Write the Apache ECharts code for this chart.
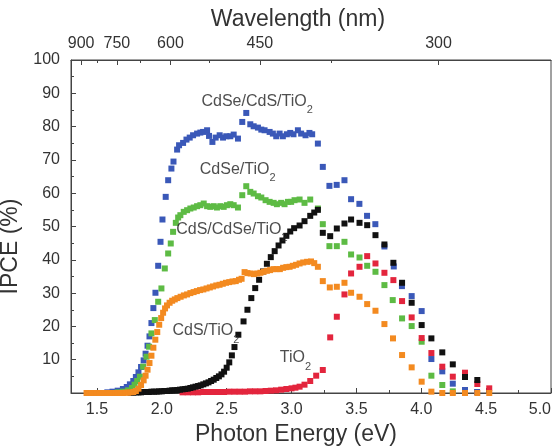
<!DOCTYPE html>
<html><head><meta charset="utf-8">
<script src="https://cdn.jsdelivr.net/npm/echarts@6/dist/echarts.min.js"></script>
<style>html,body{margin:0;padding:0;background:#fff}#c{width:558px;height:447px}</style>
</head><body><div id="c"></div>
<script>
const FONT = 'Liberation Sans, Arial, sans-serif';
const energyTicks = [1.5, 2.0, 2.5, 3.0, 3.5, 4.0, 4.5, 5.0];
const energyMinorTicks = [1.75, 2.25, 2.75, 3.25, 3.75, 4.25, 4.75];
const wavelengthTicks = [900, 750, 600, 450, 300];
const wavelengthMinorTicks = [825, 675, 525, 375];

// CdSe/CdS/TiO2 (blue)
const cdseCdsTio2 = [[1.58,0.2],[1.62,0.4],[1.66,0.7],[1.70,1.2],[1.73,1.8],[1.754,2.6],[1.78,3.6],[1.80,4.8],[1.82,6.2],[1.84,7.8],[1.86,9.8],[1.875,11.8],[1.89,14.2],[1.905,17.0],[1.92,21.0],[1.935,25.5],[1.951,30.1],[1.972,38.2],[1.99,45.4],[2.005,52.1],[2.03,58.9],[2.049,63.9],[2.074,67.4],[2.09,69.5],[2.118,73.1],[2.133,74.4],[2.164,75.1],[2.19,76.1],[2.215,76.7],[2.241,77.4],[2.272,77.9],[2.297,78.2],[2.318,78.4],[2.349,78.9],[2.364,77.2],[2.39,75.4],[2.415,76.7],[2.446,77.4],[2.472,76.7],[2.497,77.1],[2.528,77.1],[2.554,77.6],[2.587,76.4],[2.62,81.4],[2.651,84.1],[2.682,80.7],[2.708,80.1],[2.741,79.7],[2.767,79.1],[2.792,78.9],[2.831,78.4],[2.856,77.9],[2.882,77.1],[2.908,77.9],[2.933,77.1],[2.964,77.7],[2.99,78.1],[3.015,77.7],[3.049,78.9],[3.074,77.9],[3.108,77.4],[3.138,78.1],[3.159,77.7],[3.203,74.9],[3.241,67.9],[3.292,62.2],[3.348,62.5],[3.408,63.9],[3.459,58.2],[3.523,56.8],[3.582,53.2],[3.646,50.7],[3.716,44.0],[3.788,38.0],[3.851,32.1],[3.926,29.1],[4.003,24.6],[4.078,10.2],[4.162,6.5],[4.243,2.8],[4.337,0.9],[4.43,0.3]];
// CdSe/TiO2 (green)
const cdseTio2 = [[1.66,0.2],[1.70,0.4],[1.74,0.8],[1.77,1.5],[1.79,2.5],[1.81,3.6],[1.831,4.9],[1.856,7.9],[1.882,10.9],[1.902,13.9],[1.92,17.9],[1.946,21.9],[1.972,27.4],[1.997,31.4],[2.023,37.4],[2.049,41.9],[2.069,44.9],[2.087,48.4],[2.108,51.1],[2.126,52.7],[2.143,53.4],[2.169,54.4],[2.195,54.9],[2.22,55.4],[2.246,55.7],[2.272,56.1],[2.297,56.4],[2.323,56.9],[2.349,56.1],[2.374,55.9],[2.40,56.1],[2.425,55.7],[2.451,56.1],[2.477,55.9],[2.502,56.4],[2.528,56.7],[2.554,56.4],[2.587,55.7],[2.62,59.4],[2.651,62.1],[2.682,60.4],[2.708,59.9],[2.741,59.1],[2.767,58.7],[2.80,57.9],[2.831,57.4],[2.862,57.1],[2.887,56.7],[2.92,57.1],[2.946,56.7],[2.972,57.4],[2.997,57.4],[3.023,57.9],[3.062,58.1],[3.10,57.1],[3.144,58.1],[3.203,55.4],[3.241,50.7],[3.292,44.1],[3.349,44.1],[3.408,45.4],[3.459,41.6],[3.524,40.7],[3.583,38.2],[3.647,36.4],[3.716,32.4],[3.78,27.9],[3.852,22.4],[3.926,20.1],[4.003,15.4],[4.078,5.2],[4.162,2.4],[4.243,0.5]];
// CdS/CdSe/TiO2 (black)
const cdsCdseTio2 = [[1.76,0.1],[1.78,0.1],[1.80,0.2],[1.82,0.2],[1.84,0.2],[1.86,0.3],[1.88,0.3],[1.90,0.3],[1.92,0.4],[1.94,0.4],[1.96,0.4],[1.98,0.5],[2.00,0.5],[2.02,0.6],[2.04,0.6],[2.06,0.7],[2.08,0.8],[2.10,0.8],[2.12,0.9],[2.14,1.0],[2.16,1.1],[2.18,1.2],[2.20,1.3],[2.22,1.5],[2.24,1.7],[2.26,1.9],[2.28,2.1],[2.30,2.3],[2.32,2.6],[2.34,2.9],[2.36,3.2],[2.38,3.6],[2.40,4.0],[2.42,4.5],[2.44,5.0],[2.46,5.6],[2.48,6.4],[2.50,7.6],[2.52,9.2],[2.54,11.3],[2.56,13.8],[2.59,17.5],[2.63,21.5],[2.66,25.0],[2.69,28.5],[2.72,31.5],[2.75,34.0],[2.78,36.5],[2.81,38.8],[2.84,40.8],[2.87,42.6],[2.90,44.3],[2.93,45.8],[2.96,47.2],[2.99,48.5],[3.02,49.5],[3.062,50.3],[3.10,51.6],[3.144,53.2],[3.175,54.2],[3.203,55.0],[3.241,48.1],[3.298,47.1],[3.349,49.4],[3.408,50.9],[3.459,52.1],[3.524,51.1],[3.583,50.4],[3.647,47.4],[3.716,44.6],[3.785,39.1],[3.852,33.1],[3.926,27.1],[4.003,20.4],[4.078,16.4],[4.162,12.2],[4.243,8.6],[4.337,4.8],[4.432,3.9]];
// CdS/TiO2 (orange)
const cdsTio2 = [[1.42,0],[1.44,0],[1.46,0],[1.48,0],[1.50,0],[1.52,0],[1.54,0],[1.56,0],[1.58,0],[1.60,0],[1.62,0],[1.64,0],[1.66,0],[1.68,0],[1.70,0],[1.72,0.1],[1.74,0.1],[1.76,0.2],[1.78,0.3],[1.80,0.6],[1.82,1.3],[1.84,2.4],[1.86,3.8],[1.875,5.2],[1.89,7.0],[1.905,9.0],[1.92,11.2],[1.935,13.6],[1.95,16.0],[1.965,18.3],[1.98,20.5],[1.995,22.5],[2.01,24.1],[2.025,25.4],[2.04,26.3],[2.06,27.1],[2.08,27.7],[2.10,28.1],[2.12,28.5],[2.145,28.9],[2.17,29.3],[2.195,29.6],[2.22,30.0],[2.245,30.3],[2.27,30.6],[2.295,30.9],[2.32,31.1],[2.345,31.4],[2.37,31.7],[2.395,32.0],[2.42,32.3],[2.445,32.5],[2.47,32.8],[2.495,33.1],[2.52,33.3],[2.545,33.5],[2.57,33.6],[2.595,34.0],[2.615,34.3],[2.638,36.3],[2.66,36.0],[2.685,35.9],[2.71,35.7],[2.735,35.9],[2.76,36.1],[2.785,36.4],[2.81,36.7],[2.835,36.9],[2.86,37.2],[2.885,37.2],[2.91,37.2],[2.935,37.6],[2.96,37.8],[2.985,37.9],[3.01,38.2],[3.035,38.5],[3.062,38.9],[3.09,39.2],[3.12,39.4],[3.15,39.5],[3.175,39.0],[3.203,37.9],[3.241,33.6],[3.295,31.7],[3.349,31.9],[3.408,33.1],[3.459,30.1],[3.524,28.9],[3.583,26.7],[3.647,24.7],[3.716,20.7],[3.782,16.4],[3.852,11.4],[3.926,7.7],[4.003,3.4],[4.078,0.4],[4.162,0],[4.243,0],[4.337,0],[4.432,0],[4.524,0]];
// TiO2 (red)
const tio2 = [[2.16,0.2],[2.20,0.2],[2.24,0.2],[2.28,0.2],[2.32,0.3],[2.36,0.3],[2.40,0.3],[2.44,0.3],[2.48,0.3],[2.52,0.4],[2.56,0.4],[2.60,0.4],[2.64,0.4],[2.68,0.5],[2.72,0.5],[2.76,0.5],[2.80,0.6],[2.84,0.7],[2.88,0.8],[2.92,1.0],[2.96,1.2],[3.00,1.4],[3.03,1.6],[3.062,1.9],[3.10,2.5],[3.144,3.6],[3.19,5.2],[3.241,6.9],[3.298,16.7],[3.349,22.9],[3.408,29.6],[3.459,35.9],[3.524,37.9],[3.583,41.1],[3.647,38.9],[3.716,36.1],[3.785,33.9],[3.852,27.6],[3.926,22.7],[4.003,16.5],[4.078,12.0],[4.162,7.9],[4.243,4.9],[4.337,6.1],[4.432,2.7],[4.524,1.4]];

const seriesNames = ['CdSe/CdS/TiO2', 'CdSe/TiO2', 'TiO2', 'CdS/CdSe/TiO2', 'CdS/TiO2'];
const seriesData = [cdseCdsTio2, cdseTio2, tio2, cdsCdseTio2, cdsTio2];
const seriesColors = ['#3a58b8', '#5dbb44', '#e3253d', '#111111', '#f38a20'];

// annotation labels: main text, subscript, energy, IPCE
const annotationText = ['CdSe/CdS/TiO', 'CdSe/TiO', 'CdS/CdSe/TiO', 'CdS/TiO', 'TiO'];
const annotationSub = ['2', '2', '2', '2', '2'];
const annotationE = [2.735, 2.585, 2.54, 2.34, 3.03];
const annotationV = [87.9, 67.5, 49.5, 18.9, 10.8];

const chart = echarts.init(document.getElementById('c'), null, {renderer: 'canvas'});
const axisColor = '#444';
const textColor = '#333';
const common = {type: 'value', min: 1.3, max: 5.0, splitLine: {show: false}};
const option = {
  animation: false,
  backgroundColor: '#fff',
  textStyle: {fontFamily: FONT},
  grid: {left: 71, right: 7, top: 60, bottom: 54, containLabel: false, outerBoundsMode: 'none',
         show: true, borderColor: axisColor, borderWidth: 1, backgroundColor: 'transparent'},
  xAxis: [
    Object.assign({}, common, {
      position: 'bottom', name: 'Photon Energy (eV)', nameLocation: 'middle', nameGap: 27,
      nameTextStyle: {fontSize: 23, color: textColor, fontFamily: FONT, padding: [0, 30, 0, 0]},
      axisLine: {show: true, lineStyle: {color: axisColor}},
      axisTick: {show: true, inside: true, length: 5, customValues: energyTicks, lineStyle: {color: axisColor}},
      axisLabel: {show: true, customValues: energyTicks, fontSize: 16, color: textColor, margin: 9, fontFamily: FONT,
                  alignMaxLabel: 'right', formatter: v => v.toFixed(1)}
    }),
    Object.assign({}, common, {
      position: 'bottom',
      axisLine: {show: false},
      axisTick: {show: true, inside: true, length: 3, customValues: energyMinorTicks, lineStyle: {color: axisColor}},
      axisLabel: {show: false}
    }),
    Object.assign({}, common, {
      position: 'top', name: 'Wavelength (nm)', nameLocation: 'middle', nameGap: 28,
      nameTextStyle: {fontSize: 23, color: textColor, fontFamily: FONT, padding: [0, 26, 0, 0]},
      axisLine: {show: true, lineStyle: {color: axisColor}},
      axisTick: {show: true, inside: true, length: 5, customValues: wavelengthTicks.map(w => 1240 / w), lineStyle: {color: axisColor}},
      axisLabel: {show: true, customValues: wavelengthTicks.map(w => 1240 / w), fontSize: 16, color: textColor, margin: 8, fontFamily: FONT, formatter: v => String(Math.round(1240 / v))}
    }),
    Object.assign({}, common, {
      position: 'top',
      axisLine: {show: false},
      axisTick: {show: true, inside: true, length: 3, customValues: wavelengthMinorTicks.map(w => 1240 / w), lineStyle: {color: axisColor}},
      axisLabel: {show: false}
    })
  ],
  yAxis: [{
    type: 'value', min: 0, max: 100, interval: 10,
    name: 'IPCE (%)', nameLocation: 'middle', nameGap: 35, nameRotate: 90,
    nameTextStyle: {fontSize: 23, color: textColor, fontFamily: FONT, padding: [0, 40, 0, 0]},
    axisLine: {show: true, lineStyle: {color: axisColor}},
    axisTick: {show: true, inside: true, length: 5, lineStyle: {color: axisColor}},
    minorTick: {show: true, splitNumber: 2, length: 3, lineStyle: {color: axisColor}},
    splitLine: {show: false},
    axisLabel: {fontSize: 16, color: textColor, margin: 11, fontFamily: FONT, formatter: v => v === 0 ? '' : String(v)}
  }],
  series: seriesData.map((d, i) => ({
    name: seriesNames[i], type: 'scatter', xAxisIndex: 0, yAxisIndex: 0,
    symbol: 'rect', symbolSize: 6, data: d,
    itemStyle: {color: seriesColors[i], opacity: 1}
  })).concat([{
    type: 'scatter', xAxisIndex: 0, yAxisIndex: 0, symbolSize: 0, silent: true, z: 10,
    data: annotationText.map((t, i) => ({value: [annotationE[i], annotationV[i]], name: t, sub: annotationSub[i]})),
    label: {
      show: true, position: 'inside',
      formatter: p => '{b|' + p.data.name + '}{s|' + p.data.sub + '}',
      rich: {
        b: {fontSize: 16, color: '#222', fontFamily: FONT, lineHeight: 18, verticalAlign: 'bottom'},
        s: {fontSize: 11, color: '#222', fontFamily: FONT, lineHeight: 10, verticalAlign: 'bottom', padding: [0, 0, -6, 0]}
      }
    }
  }])
};
chart.setOption(option);
</script></body></html>
